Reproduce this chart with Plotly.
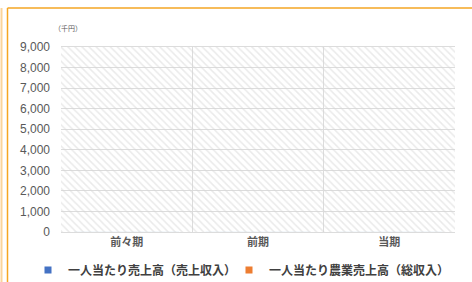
import plotly.graph_objects as go

categories = ["前々期", "前期", "当期"]
sales_per_person = [0, 0, 0]          # 一人当たり売上高（売上収入）
farm_sales_per_person = [0, 0, 0]     # 一人当たり農業売上高（総収入）
series_names = ["一人当たり売上高（売上収入）", "一人当たり農業売上高（総収入）"]
series_colors = ["#4472C4", "#ED7D31"]
y_ticks = list(range(0, 9001, 1000))
unit_label = "（千円）"

W, H = 472, 282
L, R, T, B = 61, 17, 47, 50
pw, ph = W - L - R, H - T - B

def px(x):
    return (x - L) / pw

def py(y):
    return (H - B - y) / ph

FONT = "Noto Sans CJK JP, Liberation Sans, sans-serif"
fig = go.Figure()

# hatched background (overlay axes)
fig.add_trace(go.Bar(
    x=[0.5], y=[1], width=[1], xaxis="x2", yaxis="y2",
    marker=dict(color="rgba(0,0,0,0)", line=dict(width=0),
                pattern=dict(shape="\\", fgcolor="#d6d6d6", size=5, solidity=0.3,
                             fillmode="overlay")),
    showlegend=False, hoverinfo="skip",
))

legend_refs = ["legend", "legend2"]
for name, vals, col, lg in zip(series_names, [sales_per_person, farm_sales_per_person],
                               series_colors, legend_refs):
    fig.add_trace(go.Bar(x=categories, y=vals, name=name, marker_color=col,
                         legendgroup=name, showlegend=False))
    # small square legend key
    fig.add_trace(go.Scatter(x=[None], y=[None], mode="markers", name=name,
                             legendgroup=name, showlegend=True, legend=lg,
                             marker=dict(symbol="square", size=7, color=col)))

legend_style = dict(orientation="h", xanchor="left", y=py(270), yanchor="middle",
                    font=dict(size=12, color="#404040", family=FONT, weight="bold"),
                    itemwidth=30, bgcolor="rgba(0,0,0,0)")

fig.update_layout(
    width=W, height=H,
    margin=dict(l=L, r=R, t=T, b=B, autoexpand=False),
    paper_bgcolor="white", plot_bgcolor="white",
    font=dict(family=FONT, color="#595959"),
    barmode="group",
    xaxis=dict(type="category", tickson="boundaries", showgrid=True,
               gridcolor="#dcdcdc", gridwidth=1.2, ticks="", showline=True,
               linecolor="#dcdcdc", linewidth=1.2, mirror=True, automargin=False,
               tickfont=dict(size=11, color="#595959", family=FONT, weight="bold"),
               zeroline=False),
    yaxis=dict(range=[0, 9000], tickvals=y_ticks, tickformat=",", showgrid=True,
               gridcolor="#dcdcdc", gridwidth=1.2, zeroline=False, showline=False,
               ticks="", ticklabelstandoff=10, automargin=False,
               tickfont=dict(size=12, color="#595959", family="Liberation Sans, sans-serif")),
    xaxis2=dict(overlaying="x", range=[0, 1], visible=False, fixedrange=True),
    yaxis2=dict(overlaying="y", range=[0, 1], visible=False, fixedrange=True),
    legend=dict(x=px(28), **legend_style),
    legend2=dict(x=px(229), **legend_style),
    showlegend=True,
)

fig.add_annotation(text=unit_label, xref="paper", yref="paper", x=px(52), y=py(21),
                   showarrow=False, font=dict(size=7, color="#595959", family=FONT))

# orange frame lines
orange = "#F5A623"
fig.add_shape(type="line", xref="paper", yref="paper", x0=px(7.5), x1=px(W + 2),
              y0=py(8), y1=py(8), line=dict(color=orange, width=1.5))
fig.add_shape(type="line", xref="paper", yref="paper", x0=px(7.5), x1=px(7.5),
              y0=py(8), y1=py(H + 2), line=dict(color=orange, width=1.5))
fig.add_shape(type="line", xref="paper", yref="paper", x0=px(1.5), x1=px(1.5),
              y0=py(8), y1=py(H + 2), line=dict(color="#FBD49A", width=2))

fig.write_html("out.html", config={"displayModeBar": False},
               post_script="document.body.style.margin='0';")
